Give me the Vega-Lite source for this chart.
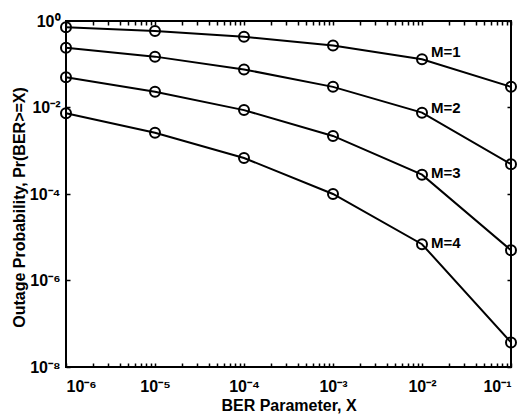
{
  "$schema": "https://vega.github.io/schema/vega-lite/v6.json",
  "width": 445,
  "height": 346,
  "autosize": "none",
  "padding": {"left": 66, "top": 21, "right": 9, "bottom": 50},
  "background": "white",
  "config": {
    "view": {"stroke": "black", "strokeWidth": 2},
    "font": "Liberation Sans",
    "axis": {"grid": false, "domain": false, "tickColor": "black", "tickWidth": 1.5, "labelColor": "black", "labelFont": "Liberation Sans", "labelFontWeight": "bold", "labelFontSize": 16, "titleFont": "Liberation Sans", "titleFontWeight": "bold", "titleFontSize": 16, "titleColor": "black"}
  },
  "datasets": {
    "curves": [
      {"x": 1e-6, "y": 0.72, "M": "M=1"},
      {"x": 1e-5, "y": 0.59, "M": "M=1"},
      {"x": 1e-4, "y": 0.43, "M": "M=1"},
      {"x": 1e-3, "y": 0.27, "M": "M=1"},
      {"x": 1e-2, "y": 0.13, "M": "M=1"},
      {"x": 1e-1, "y": 0.03, "M": "M=1"},
      {"x": 1e-6, "y": 0.24, "M": "M=2"},
      {"x": 1e-5, "y": 0.15, "M": "M=2"},
      {"x": 1e-4, "y": 0.076, "M": "M=2"},
      {"x": 1e-3, "y": 0.03, "M": "M=2"},
      {"x": 1e-2, "y": 0.0076, "M": "M=2"},
      {"x": 1e-1, "y": 0.00049, "M": "M=2"},
      {"x": 1e-6, "y": 0.05, "M": "M=3"},
      {"x": 1e-5, "y": 0.023, "M": "M=3"},
      {"x": 1e-4, "y": 0.0087, "M": "M=3"},
      {"x": 1e-3, "y": 0.0022, "M": "M=3"},
      {"x": 1e-2, "y": 0.00028, "M": "M=3"},
      {"x": 1e-1, "y": 0.000005, "M": "M=3"},
      {"x": 1e-6, "y": 0.0074, "M": "M=4"},
      {"x": 1e-5, "y": 0.0026, "M": "M=4"},
      {"x": 1e-4, "y": 0.00068, "M": "M=4"},
      {"x": 1e-3, "y": 0.0001, "M": "M=4"},
      {"x": 1e-2, "y": 0.0000069, "M": "M=4"},
      {"x": 1e-1, "y": 0.000000037, "M": "M=4"}
    ],
    "labels": [
      {"x": 1e-2, "y": 0.187, "M": "M=1"},
      {"x": 1e-2, "y": 0.0099, "M": "M=2"},
      {"x": 1e-2, "y": 0.00031, "M": "M=3"},
      {"x": 1e-2, "y": 0.0000072, "M": "M=4"}
    ]
  },
  "resolve": {"axis": {"x": "independent", "y": "independent"}},
  "layer": [
    {
      "data": {"name": "curves"},
      "mark": {"type": "line", "color": "black", "strokeWidth": 2},
      "encoding": {
        "x": {"field": "x", "type": "quantitative", "scale": {"type": "log", "domain": [1e-6, 0.1], "nice": false},
          "axis": {"orient": "bottom", "title": "BER Parameter, X", "titlePadding": 3, "tickSize": -4, "labelPadding": 15,
            "values": [1e-6,2e-6,3e-6,4e-6,5e-6,6e-6,7e-6,8e-6,9e-6,1e-5,2e-5,3e-5,4e-5,5e-5,6e-5,7e-5,8e-5,9e-5,1e-4,2e-4,3e-4,4e-4,5e-4,6e-4,7e-4,8e-4,9e-4,1e-3,2e-3,3e-3,4e-3,5e-3,6e-3,7e-3,8e-3,9e-3,1e-2,2e-2,3e-2,4e-2,5e-2,6e-2,7e-2,8e-2,9e-2,1e-1],
            "labelExpr": "abs(log(datum.value)/LN10 - round(log(datum.value)/LN10)) < 0.001 ? '10' + (datum.value < 0.9 ? '⁻' : '') + ['⁰','¹','²','³','⁴','⁵','⁶','⁷','⁸'][abs(round(log(datum.value)/LN10))] : ''"}},
        "y": {"field": "y", "type": "quantitative", "scale": {"type": "log", "domain": [1e-8, 1], "nice": false},
          "axis": {"orient": "left", "title": "Outage Probability, Pr(BER>=X)", "titlePadding": 2, "titleY": 186, "tickSize": -4, "labelPadding": 10,
            "values": [1, 0.01, 0.0001, 0.000001, 0.00000001],
            "labelExpr": "'10' + (datum.value < 0.9 ? '⁻' : '') + ['⁰','¹','²','³','⁴','⁵','⁶','⁷','⁸'][abs(round(log(datum.value)/LN10))]"}},
        "detail": {"field": "M", "type": "nominal"}
      }
    },
    {
      "data": {"name": "curves"},
      "mark": {"type": "point", "shape": "circle", "filled": false, "stroke": "black", "strokeWidth": 2, "size": 100, "opacity": 1},
      "encoding": {
        "x": {"field": "x", "type": "quantitative",
          "axis": {"orient": "top", "title": null, "labels": false, "tickSize": -4,
            "values": [1e-6,2e-6,3e-6,4e-6,5e-6,6e-6,7e-6,8e-6,9e-6,1e-5,2e-5,3e-5,4e-5,5e-5,6e-5,7e-5,8e-5,9e-5,1e-4,2e-4,3e-4,4e-4,5e-4,6e-4,7e-4,8e-4,9e-4,1e-3,2e-3,3e-3,4e-3,5e-3,6e-3,7e-3,8e-3,9e-3,1e-2,2e-2,3e-2,4e-2,5e-2,6e-2,7e-2,8e-2,9e-2,1e-1]}},
        "y": {"field": "y", "type": "quantitative",
          "axis": {"orient": "right", "title": null, "labels": false, "tickSize": -4,
            "values": [1, 0.01, 0.0001, 0.000001, 0.00000001]}}
      }
    },
    {
      "data": {"name": "labels"},
      "mark": {"type": "text", "align": "left", "baseline": "middle", "dx": 9, "font": "Liberation Sans", "fontWeight": "bold", "fontSize": 15, "color": "black"},
      "encoding": {
        "x": {"field": "x", "type": "quantitative", "axis": null},
        "y": {"field": "y", "type": "quantitative", "axis": null},
        "text": {"field": "M"}
      }
    }
  ]
}
